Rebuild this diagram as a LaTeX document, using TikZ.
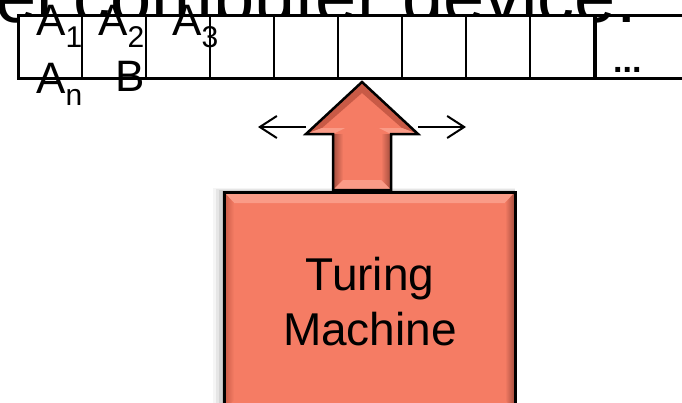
\documentclass[tikz,border=0pt]{standalone}
\usepackage{fontspec}
\setmainfont{Liberation Sans}
\usetikzlibrary{arrows.meta}
\definecolor{salmon}{RGB}{245,124,100}
\definecolor{salmonlight}{RGB}{250,155,135}
\definecolor{salmondark}{RGB}{200,90,70}
\definecolor{salmondeep}{RGB}{160,75,60}
\tikzset{
  lbl/.style={inner sep=0pt, anchor=base west, font=\fontsize{44}{44}\selectfont},
  tapeline/.style={line width=3pt},
  cellline/.style={line width=2pt},
  movearrow/.style={line width=2pt, -{Straight Barb[length=17pt,width=22pt,line width=2pt]}},
  machtext/.style={inner sep=0pt, anchor=base, font=\fontsize{46}{46}\selectfont},
}
\newcommand{\sub}[1]{\raisebox{-12pt}{\fontsize{30}{30}\selectfont #1}}
\begin{document}
\begin{tikzpicture}[x=1pt,y=-1pt]
\clip (0,0) rectangle (682,402);
\fill[white] (0,0) rectangle (682,402);
% clipped title text
\node[inner sep=0pt, anchor=base east, font=\fontsize{74}{74}\selectfont] (title) at (637,22) {el computer device.};
% tape (white cells cover the title)
\fill[white] (18,15) rectangle (595,78);
\draw[tapeline] (682,15) -- (18,15) -- (18,78) -- (682,78);
\foreach \x in {82,146,210,274,338,402,466,530} {
  \draw[cellline] (\x,15) -- (\x,78);
}
\draw[line width=4pt] (595,15) -- (595,78);
\node[inner sep=0pt, anchor=base west, font=\bfseries\fontsize{34}{34}\selectfont] (dots) at (613,72) {...};
% tape labels
\node[lbl] (a1) at (36,35) {A\sub{1}};
\node[lbl] (a2) at (98,35) {A\sub{2}};
\node[lbl] (a3) at (172,35) {A\sub{3}};
\node[lbl] (an) at (36,93) {A\raisebox{-12pt}{\fontsize{30}{30}\selectfont n}};
\node[lbl] (b) at (115,91) {B};
% shadow of the box
\foreach \d/\o in {2/0.10,5/0.08,8/0.06,11/0.04} {
  \fill[black, opacity=\o] (224-\d,192-\d*0.4) rectangle (515,410);
}
% box with bevel
\fill[salmon] (224,192) rectangle (515,410);
\fill[salmonlight] (224,192) -- (515,192) -- (505,203) -- (234,203) -- cycle;
\shade[left color=salmon, right color=salmondeep] (515,192) -- (515,410) -- (505,400) -- (505,203) -- cycle;
\shade[left color=salmondark, right color=salmon] (224,192) -- (234,203) -- (234,400) -- (224,410) -- cycle;
\draw[line width=3pt] (224,410) -- (224,192) -- (515,192) -- (515,410);
\node[machtext] (t1) at (370,290) {Turing};
\node[machtext] (t2) at (370,345) {Machine};
% big arrow with bevel
\fill[salmon] (362,82) -- (418,134) -- (391,134) -- (391,190) -- (333,190) -- (333,134) -- (306,134) -- cycle;
\fill[salmondark] (362,82) -- (362,93) -- (322,128) -- (306,134) -- cycle;
\fill[salmondark] (362,82) -- (418,134) -- (402,128) -- (362,93) -- cycle;
\fill[salmonlight] (306,134) -- (322,128) -- (345,128) -- (333,134) -- cycle;
\fill[salmonlight] (418,134) -- (402,128) -- (379,128) -- (391,134) -- cycle;
\shade[left color=salmondeep, right color=salmon] (333,134) -- (343,134) -- (343,180) -- (333,190) -- cycle;
\shade[left color=salmon, right color=salmondeep] (391,134) -- (381,134) -- (381,180) -- (391,190) -- cycle;
\fill[salmonlight] (333,190) -- (343,180) -- (381,180) -- (391,190) -- cycle;
\draw[line width=2.5pt, line join=miter] (362,82) -- (418,134) -- (391,134) -- (391,190) -- (333,190) -- (333,134) -- (306,134) -- cycle;
\coordinate (hl) at (306,127);
\coordinate (hr) at (418,127);
\coordinate (gl) at (258,127);
\coordinate (gr) at (466,127);
\draw[movearrow] (hl) -- (gl);
\draw[movearrow] (hr) -- (gr);
\end{tikzpicture}
\end{document}
